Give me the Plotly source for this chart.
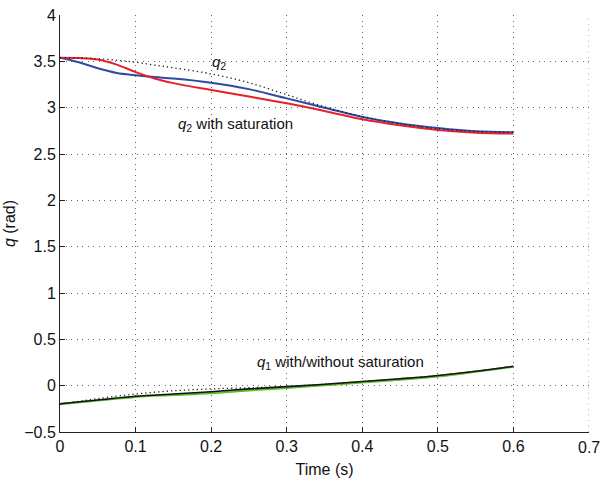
import plotly.graph_objects as go

t = [0.0, 0.025, 0.05, 0.075, 0.1, 0.125, 0.15, 0.2, 0.25, 0.3, 0.35, 0.4, 0.45, 0.5, 0.55, 0.6]
q2_ref = [3.54, 3.537, 3.528, 3.512, 3.49, 3.46, 3.43, 3.365, 3.27, 3.14, 3.01, 2.905, 2.825, 2.772, 2.743, 2.735]
q2_sat_blue = [3.54, 3.49, 3.425, 3.375, 3.35, 3.33, 3.315, 3.27, 3.2, 3.1, 3.0, 2.9, 2.83, 2.78, 2.745, 2.735]
q2_sat_red = [3.54, 3.536, 3.52, 3.465, 3.385, 3.315, 3.265, 3.19, 3.12, 3.047, 2.965, 2.875, 2.81, 2.76, 2.73, 2.72]

tq1 = [0.0, 0.05, 0.1, 0.15, 0.2, 0.25, 0.3, 0.35, 0.4, 0.45, 0.5, 0.55, 0.6]
q1_ref = [-0.2, -0.14, -0.09, -0.055, -0.035, -0.022, -0.008, 0.015, 0.045, 0.075, 0.11, 0.155, 0.21]
q1_black = [-0.195, -0.155, -0.115, -0.09, -0.065, -0.035, -0.01, 0.015, 0.045, 0.075, 0.11, 0.155, 0.21]
q1_green = [-0.2, -0.16, -0.12, -0.1, -0.08, -0.05, -0.025, 0.005, 0.035, 0.065, 0.1, 0.15, 0.205]

xticks = [0, 0.1, 0.2, 0.3, 0.4, 0.5, 0.6, 0.7]
xticklabels = ["0", "0.1", "0.2", "0.3", "0.4", "0.5", "0.6", "0.7"]
yticks = [-0.5, 0, 0.5, 1, 1.5, 2, 2.5, 3, 3.5, 4]
yticklabels = ["\u22120.5", "0", "0.5", "1", "1.5", "2", "2.5", "3", "3.5", "4"]

fig = go.Figure()
fig.add_trace(go.Scatter(x=t, y=q2_sat_blue, mode="lines", line=dict(color="#2c4aa6", width=2, shape="spline")))
fig.add_trace(go.Scatter(x=t, y=q2_sat_red, mode="lines", line=dict(color="#e8202a", width=2, shape="spline")))
fig.add_trace(go.Scatter(x=t, y=q2_ref, mode="lines", line=dict(color="#222222", width=1.3, dash="1.3px,3px", shape="spline")))
fig.add_trace(go.Scatter(x=tq1, y=q1_green, mode="lines", line=dict(color="#5cbf2e", width=2.2, shape="spline")))
fig.add_trace(go.Scatter(x=tq1, y=q1_black, mode="lines", line=dict(color="#111111", width=1.6, shape="spline")))
fig.add_trace(go.Scatter(x=tq1, y=q1_ref, mode="lines", line=dict(color="#222222", width=1.3, dash="1.3px,3px", shape="spline")))

font = "Liberation Sans, Arial, sans-serif"
ann = dict(showarrow=False, font=dict(family=font, size=15, color="#111"), xref="x", yref="y")
fig.add_annotation(x=0.21, y=3.49, text="<i>q</i><sub>2</sub>", **ann)
fig.add_annotation(x=0.232, y=2.82, text="<i>q</i><sub>2</sub> with saturation", **ann)
fig.add_annotation(x=0.371, y=0.245, text="<i>q</i><sub>1</sub> with/without saturation", **ann)

# last x tick label (dropped by plotly at the plot edge) and its grid line
fig.add_annotation(x=xticks[-1], y=0, xref="x", yref="paper", yanchor="top", yshift=-5,
                   text=xticklabels[-1], showarrow=False,
                   font=dict(family=font, size=16, color="#111"))
fig.add_shape(type="line", xref="x", yref="paper", x0=xticks[-1], x1=xticks[-1], y0=0, y1=1,
              line=dict(color="#666666", width=1, dash="1px,4.5px"), layer="below")

axis_common = dict(
    showgrid=True, gridcolor="#666666", griddash="1px,4.5px", gridwidth=1,
    showline=True, linecolor="#222222", linewidth=1,
    ticks="inside", ticklen=5, tickcolor="#222222",
    tickfont=dict(family=font, size=16, color="#111"),
    zeroline=False, mirror=False, automargin=False,
)
fig.update_xaxes(range=[0, 0.7], tickvals=xticks, ticktext=xticklabels,
                 title=dict(text="Time (s)", font=dict(family=font, size=16, color="#111"), standoff=9),
                 **axis_common)
fig.update_yaxes(range=[-0.5, 4], tickvals=yticks, ticktext=yticklabels,
                 title=dict(text="<i>q</i> (rad)", font=dict(family=font, size=16, color="#111"), standoff=4),
                 **axis_common)

fig.update_layout(
    width=600, height=482,
    margin=dict(l=60, r=11, t=15, b=50),
    plot_bgcolor="white", paper_bgcolor="white",
    showlegend=False,
)
fig.write_html("out.html")
